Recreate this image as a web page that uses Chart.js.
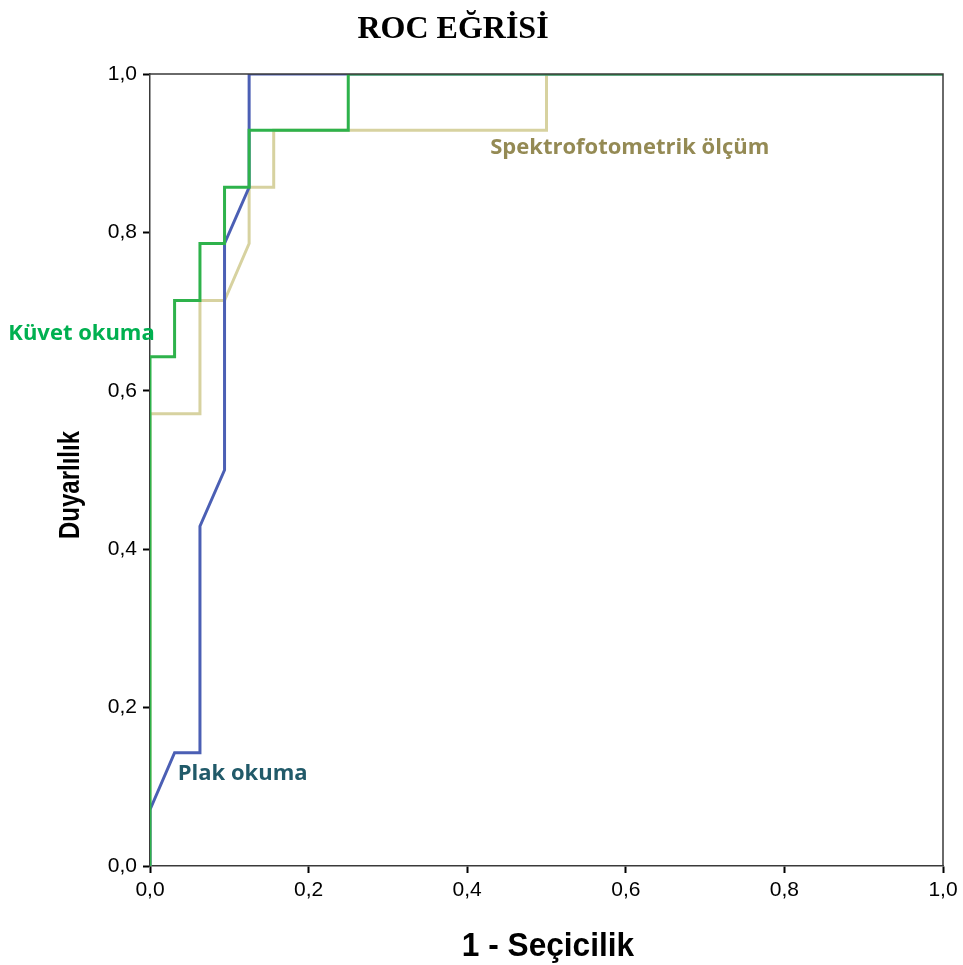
<!DOCTYPE html>
<html>
<head>
<meta charset="utf-8">
<script src="https://cdn.jsdelivr.net/npm/chart.js@4/dist/chart.umd.min.js"></script>
<style>
  html, body { margin: 0; padding: 0; background: #ffffff; }
  #wrap { width: 963px; height: 965px; position: relative; }
</style>
</head>
<body>
<div id="wrap"><canvas id="c" width="963" height="965"></canvas></div>
<script>
// ---- data ----
const seriesNames = ['Küvet okuma', 'Plak okuma', 'Spektrofotometrik ölçüm'];

const fprKuvet  = [0, 0, 0.031, 0.031, 0.063, 0.063, 0.094, 0.094, 0.125, 0.125, 0.25, 0.25, 1];
const sensKuvet = [0, 0.643, 0.643, 0.714, 0.714, 0.786, 0.786, 0.857, 0.857, 0.929, 0.929, 1, 1];

const fprPlak  = [0, 0, 0.031, 0.063, 0.063, 0.094, 0.094, 0.125, 0.125, 1];
const sensPlak = [0, 0.071, 0.143, 0.143, 0.429, 0.5, 0.786, 0.857, 1, 1];

const fprSpek  = [0, 0, 0.063, 0.063, 0.094, 0.125, 0.125, 0.156, 0.156, 0.5, 0.5, 1];
const sensSpek = [0, 0.571, 0.571, 0.714, 0.714, 0.786, 0.857, 0.857, 0.929, 0.929, 1, 1];

const tickValues = [0, 0.2, 0.4, 0.6, 0.8, 1.0];
const tickLabels = ['0,0', '0,2', '0,4', '0,6', '0,8', '1,0'];

const chartTitle = 'ROC EĞRİSİ';
const xTitle = '1 - Seçicilik';
const yTitle = 'Duyarlılık';

// series label anchor positions in data units
const labelAnchors = [
  { text: seriesNames[0], x: 0.006, y: 0.672, align: 'right', color: '#00b050' },
  { text: seriesNames[1], x: 0.035, y: 0.117, align: 'left',  color: '#215a69' },
  { text: seriesNames[2], x: 0.429, y: 0.907, align: 'left',  color: '#948a54' }
];

function pts(xs, ys) { return xs.map((x, i) => ({ x: x, y: ys[i] })); }

const annotate = {
  id: 'annotate',
  afterDatasetsDraw(chart) {
    const ctx = chart.ctx;
    const a = chart.chartArea;
    const xs = chart.scales.x, ys = chart.scales.y;
    ctx.save();
    // frame top/right
    ctx.strokeStyle = '#3a3a3a';
    ctx.lineWidth = 1.5;
    ctx.beginPath();
    ctx.moveTo(a.left, a.top);
    ctx.lineTo(a.right, a.top);
    ctx.lineTo(a.right, a.bottom);
    ctx.stroke();

    // series labels
    ctx.font = 'bold 22px "Open Sans"';
    ctx.textBaseline = 'middle';
    labelAnchors.forEach(l => {
      ctx.fillStyle = l.color;
      ctx.textAlign = l.align;
      ctx.fillText(l.text, xs.getPixelForValue(l.x), ys.getPixelForValue(l.y));
    });

    // chart title
    ctx.fillStyle = '#000';
    ctx.textAlign = 'center';
    ctx.textBaseline = 'alphabetic';
    ctx.font = 'bold 32px "Liberation Serif"';
    ctx.fillText(chartTitle, 453, 38);

    // x axis title (condensed)
    ctx.font = 'bold 34px "Liberation Sans"';
    ctx.save();
    ctx.translate(548, 956);
    ctx.scale(0.93, 1);
    ctx.fillText(xTitle, 0, 0);
    ctx.restore();

    // y axis title
    ctx.font = 'bold 30px "Liberation Sans"';
    ctx.save();
    ctx.translate(79, 485);
    ctx.rotate(-Math.PI / 2);
    ctx.scale(0.8, 1);
    ctx.fillText(yTitle, 0, 0);
    ctx.restore();
    ctx.restore();
  }
};

const tickFont = { family: '"Liberation Sans", Arial, sans-serif', size: 21 };

new Chart(document.getElementById('c'), {
  type: 'scatter',
  data: {
    datasets: [
      { label: seriesNames[0], data: pts(fprKuvet, sensKuvet), showLine: true, borderColor: '#2eb24b', borderWidth: 3, pointRadius: 0, order: 0, tension: 0 },
      { label: seriesNames[1], data: pts(fprPlak, sensPlak), showLine: true, borderColor: '#4b5fb4', borderWidth: 3, pointRadius: 0, order: 1, tension: 0 },
      { label: seriesNames[2], data: pts(fprSpek, sensSpek), showLine: true, borderColor: '#d7d2a0', borderWidth: 3, pointRadius: 0, order: 2, tension: 0 }
    ]
  },
  options: {
    responsive: false,
    animation: false,
    events: [],
    layout: { padding: { top: 74, right: 20, left: 0, bottom: 0 } },
    plugins: { legend: { display: false }, tooltip: { enabled: false }, title: { display: false } },
    scales: {
      x: {
        type: 'linear', min: 0, max: 1,
        afterFit(s) { s.height = 99; },
        afterBuildTicks(s) { s.ticks = tickValues.map(v => ({ value: v })); },
        ticks: { callback: (v, i) => tickLabels[i], font: tickFont, color: '#000', padding: 5, maxRotation: 0 },
        grid: { drawOnChartArea: false, drawTicks: true, tickLength: 7, tickWidth: 2, tickColor: '#000' },
        border: { display: true, color: '#3a3a3a', width: 1.5 }
      },
      y: {
        type: 'linear', min: 0, max: 1,
        afterFit(s) { s.width = 150; },
        afterBuildTicks(s) { s.ticks = tickValues.map(v => ({ value: v })); },
        ticks: { callback: (v, i) => tickLabels[i], font: tickFont, color: '#000', padding: 6 },
        grid: { drawOnChartArea: false, drawTicks: true, tickLength: 7, tickWidth: 2, tickColor: '#000' },
        border: { display: true, color: '#3a3a3a', width: 1.5 }
      }
    }
  },
  plugins: [annotate]
});
</script>
</body>
</html>
